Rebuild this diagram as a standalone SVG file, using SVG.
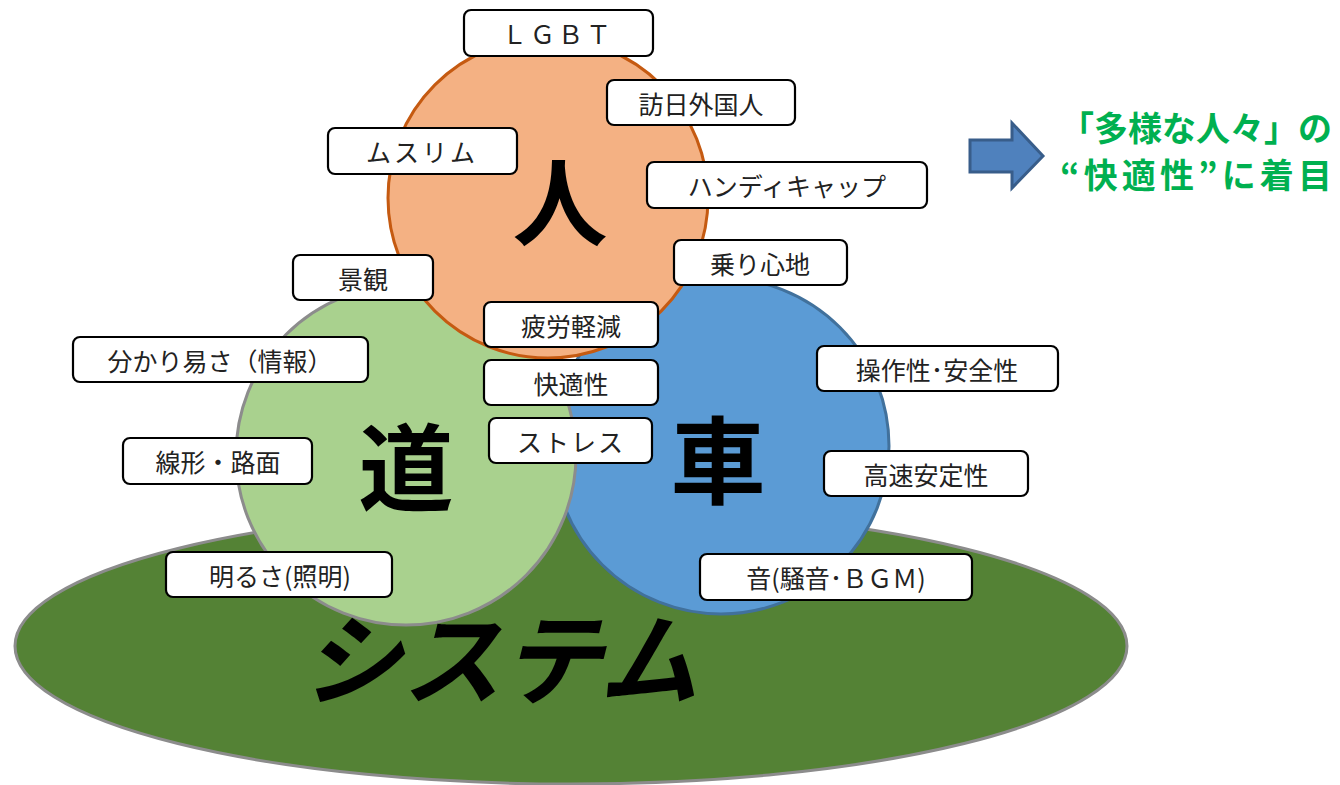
<svg xmlns="http://www.w3.org/2000/svg" width="1340" height="785" viewBox="0 0 1340 785">
<style>
.box{fill:#fff;stroke:#000;stroke-width:2.2}
.lbl{font-family:"Noto Sans CJK JP","Noto Sans",sans-serif;font-size:25px;fill:#222;text-anchor:middle;dominant-baseline:central}
.big{font-family:"Noto Sans CJK JP",sans-serif;font-weight:bold;fill:#000;text-anchor:middle}
.grn{font-family:"Noto Sans CJK JP",sans-serif;font-weight:bold;font-size:34px;fill:#00B050}
</style>
<g id="system"><ellipse cx="571" cy="646" rx="556" ry="138" fill="#548235" stroke="#8c8c8c" stroke-width="3"/></g>
<g id="car"><circle cx="721" cy="446" r="168" fill="#5B9BD5" stroke="#41719C" stroke-width="3"/></g>
<g id="road"><circle cx="406" cy="455" r="170" fill="#A9D18E" stroke="#8c8c8c" stroke-width="3"/></g>
<g id="person"><circle cx="548" cy="198" r="160" fill="#F4B183" stroke="#C55A11" stroke-width="3"/></g>
<text class="big" x="560" y="239" font-size="95">人</text>
<text class="big" x="406" y="504" font-size="95">道</text>
<text class="big" x="718" y="497" font-size="95">車</text>
<text class="big" x="0" y="0" font-size="100" transform="translate(500,697) skewX(-14)">システム</text>
<g id="n-lgbt"><rect class="box" x="464" y="10" width="189" height="46" rx="7"/><text class="lbl" x="558" y="33" letter-spacing="3">ＬＧＢＴ</text></g>
<g id="n-visitor"><rect class="box" x="607" y="80" width="188" height="45" rx="7"/><text class="lbl" x="701" y="103">訪日外国人</text></g>
<g id="n-muslim"><rect class="box" x="328" y="128" width="189" height="46" rx="7"/><text class="lbl" x="422" y="151" letter-spacing="3">ムスリム</text></g>
<g id="n-handicap"><rect class="box" x="647" y="162" width="280" height="46" rx="7"/><text class="lbl" x="787" y="185">ハンディキャップ</text></g>
<g id="n-ride"><rect class="box" x="674" y="240" width="173" height="45" rx="7"/><text class="lbl" x="760" y="263">乗り心地</text></g>
<g id="n-scenery"><rect class="box" x="293" y="255" width="140" height="45" rx="7"/><text class="lbl" x="363" y="278">景観</text></g>
<g id="n-fatigue"><rect class="box" x="484" y="302" width="174" height="45" rx="7"/><text class="lbl" x="571" y="325">疲労軽減</text></g>
<g id="n-info"><rect class="box" x="73" y="337" width="295" height="45" rx="7"/><text class="lbl" x="220" y="360">分かり易さ（情報）</text></g>
<g id="n-comfort"><rect class="box" x="484" y="360" width="174" height="45" rx="7"/><text class="lbl" x="571" y="383">快適性</text></g>
<g id="n-stress"><rect class="box" x="489" y="418" width="163" height="45" rx="7"/><text class="lbl" x="571" y="441" letter-spacing="2">ストレス</text></g>
<g id="n-operate"><rect class="box" x="817" y="346" width="241" height="45" rx="7"/><text class="lbl" x="937" y="369">操作性･安全性</text></g>
<g id="n-align"><rect class="box" x="123" y="438" width="189" height="46" rx="7"/><text class="lbl" x="218" y="461">線形・路面</text></g>
<g id="n-stable"><rect class="box" x="824" y="451" width="204" height="45" rx="7"/><text class="lbl" x="926" y="474">高速安定性</text></g>
<g id="n-light"><rect class="box" x="166" y="552" width="226" height="45" rx="7"/><text class="lbl" x="280" y="575">明るさ(照明)</text></g>
<g id="n-sound"><rect class="box" x="700" y="554" width="272" height="46" rx="7"/><text class="lbl" x="836" y="577">音(騒音･ＢＧＭ)</text></g>
<g id="arrow"><path d="M970,140 H1012 V123 L1043,156 L1012,188 V172 H970 Z" fill="#4F81BD" stroke="#385D8A" stroke-width="3" stroke-linejoin="miter"/></g>
<g id="note"><text class="grn" x="1060" y="141" textLength="272" lengthAdjust="spacing">「多様な人々」の</text><text class="grn" x="1060" y="188" textLength="272" lengthAdjust="spacing">“快適性”に着目</text></g>
</svg>
